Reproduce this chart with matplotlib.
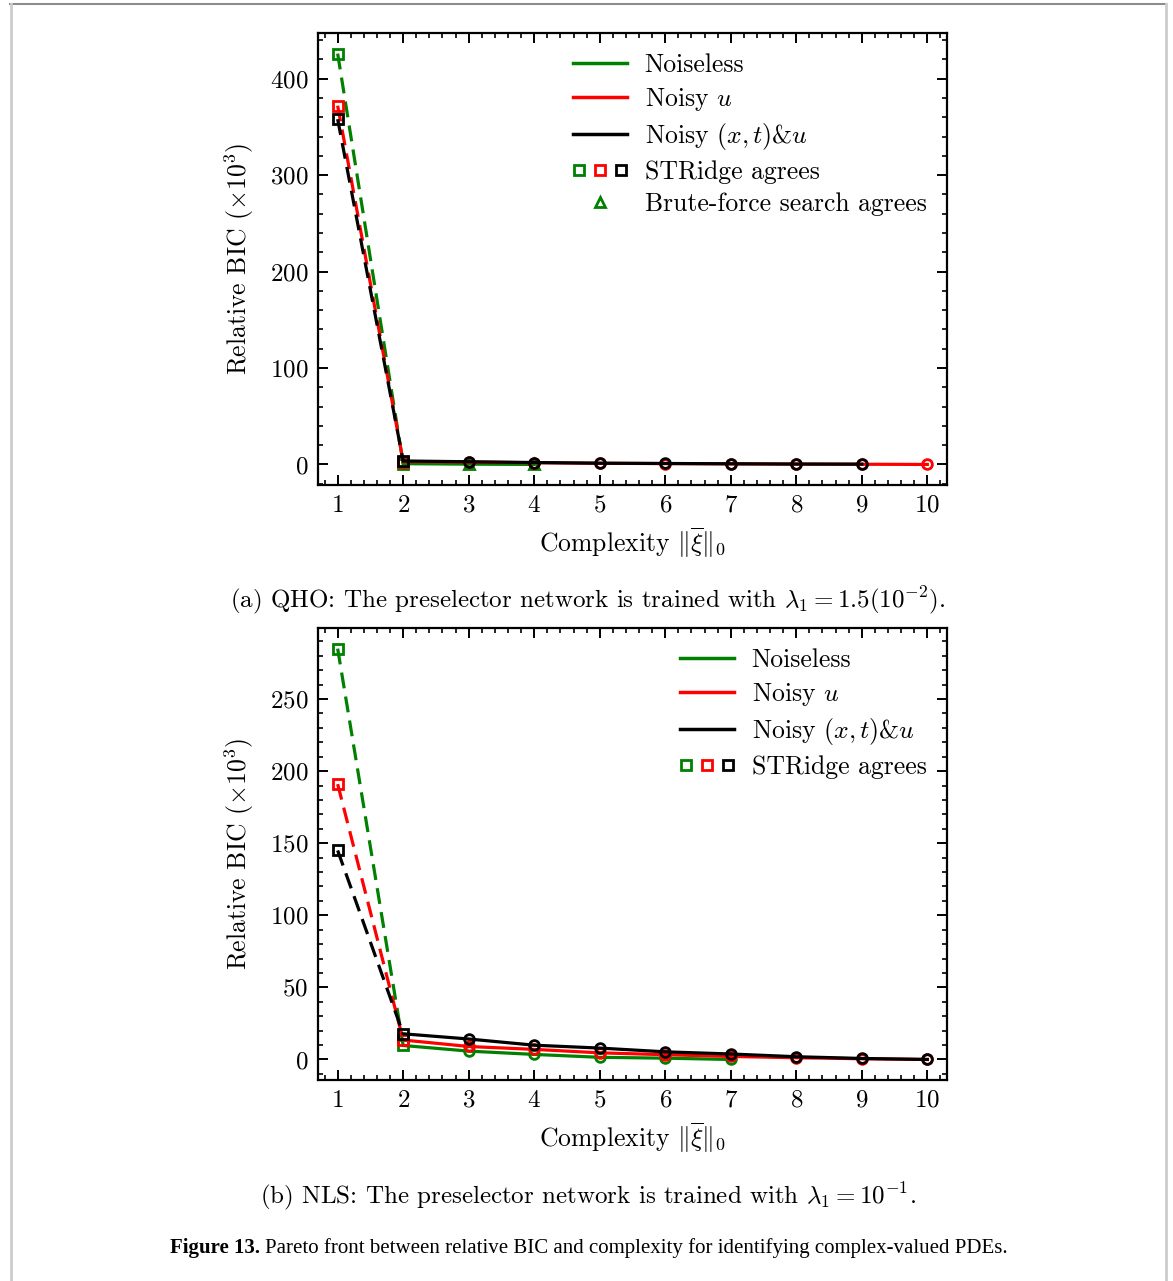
"""Pareto front: relative BIC vs complexity (QHO / NLS)"""
import numpy as np
import matplotlib
matplotlib.use("Agg")
import matplotlib.pyplot as plt
from matplotlib.lines import Line2D
from matplotlib.legend_handler import HandlerTuple

plt.rcParams['font.family'] = 'serif'
plt.rcParams['font.serif'] = ['cmr10', 'DejaVu Serif']
plt.rcParams['mathtext.fontset'] = 'cm'
plt.rcParams['axes.formatter.use_mathtext'] = True
plt.rcParams['axes.unicode_minus'] = False

# ---------------- data ----------------
# (a) QHO
qho_green_x = [1, 2, 3, 4]
qho_green_y = [426, 0.8, 0.3, 0.0]
qho_red_x = [1, 2, 3, 4, 5, 6, 7, 8, 9, 10]
qho_red_y = [372, 3.0, 2.4, 1.8, 1.2, 0.9, 0.6, 0.4, 0.2, 0.0]
qho_black_x = [1, 2, 3, 4, 5, 6, 7, 8, 9]
qho_black_y = [358, 3.6, 2.8, 2.0, 1.3, 1.0, 0.7, 0.4, 0.3]

# (b) NLS
nls_green_x = [1, 2, 3, 4, 5, 6, 7]
nls_green_y = [285, 9.7, 5.8, 3.5, 1.5, 0.9, 0.0]
nls_red_x = [1, 2, 3, 4, 5, 6, 7, 8, 9, 10]
nls_red_y = [191, 13.5, 9.0, 7.0, 4.6, 3.3, 2.1, 1.2, 0.5, 0.0]
nls_black_x = [1, 2, 3, 4, 5, 6, 7, 8, 9, 10]
nls_black_y = [145, 17.8, 14.2, 9.9, 7.9, 5.3, 3.8, 1.9, 0.7, 0.0]

colors = ['green', 'red', 'black']
labels = ['Noiseless', 'Noisy $u$', 'Noisy $(x,t)$&$u$']

fs = 18.5
lw = 2.3


def draw_series(ax, x, y, c, tri_idx=()):
    x = np.array(x)
    y = np.array(y)
    # STRidge agrees for the first two points -> dashed + squares
    ax.plot(x[:2], y[:2], '--', color=c, lw=lw, dashes=(5, 2.6))
    ax.plot(x[1:], y[1:], '-', color=c, lw=lw)
    ax.plot(x[:2], y[:2], 's', mfc='none', mec=c, ms=7.5, mew=2)
    rest = [i for i in range(2, len(x)) if i not in tri_idx]
    ax.plot(x[rest], y[rest], 'o', mfc='none', mec=c, ms=7, mew=2)
    if len(tri_idx):
        idx = list(tri_idx)
        ax.plot(x[idx], y[idx], '^', mfc='none', mec=c, ms=7, mew=2)


def style_axes(ax, ymajor, yminor):
    ax.set_xlim(0.7, 10.3)
    ax.set_xticks(range(1, 11))
    ax.set_xticks(np.arange(0.8, 10.3, 0.2), minor=True)
    ax.yaxis.set_major_locator(plt.MultipleLocator(ymajor))
    ax.yaxis.set_minor_locator(plt.MultipleLocator(yminor))
    ax.tick_params(which='both', direction='in', top=True, right=True, labelsize=18)
    ax.tick_params(which='major', length=7, width=1.4, pad=7)
    ax.tick_params(which='minor', length=3.5, width=1.2)
    for s in ax.spines.values():
        s.set_linewidth(1.6)
    ax.set_xlabel(r'Complexity $\|\overline{\xi}\|_0$', fontsize=fs, labelpad=6)
    ax.set_ylabel(r'Relative BIC $(\times 10^3)$', fontsize=fs, labelpad=10)


def legend_handles(with_brute):
    h = [Line2D([], [], color=c, lw=2.5) for c in colors]
    sq = tuple(Line2D([], [], ls='none', marker='s', mfc='none', mec=c, ms=7, mew=2) for c in colors)
    h.append(sq)
    lab = labels + ['STRidge agrees']
    if with_brute:
        h.append(Line2D([], [], ls='none', marker='^', mfc='none', mec='green', ms=7, mew=2))
        lab.append('Brute-force search agrees')
    return h, lab


fig = plt.figure(figsize=(11.73, 12.81), dpi=100)

# ---------- (a) QHO ----------
ax1 = fig.add_axes([0.2711, 0.6214, 0.5362, 0.3528])
draw_series(ax1, qho_green_x, qho_green_y, 'green', tri_idx=(2, 3))
draw_series(ax1, qho_red_x, qho_red_y, 'red')
draw_series(ax1, qho_black_x, qho_black_y, 'black')
style_axes(ax1, 100, 20)
h, lab = legend_handles(True)
ax1.legend(h, lab, loc='upper right', frameon=False, fontsize=fs, handlelength=2.1,
           handletextpad=0.7, labelspacing=0.32, borderaxespad=0.4,
           handler_map={tuple: HandlerTuple(ndivide=None, pad=0.35)})

# ---------- (b) NLS ----------
ax2 = fig.add_axes([0.2711, 0.1569, 0.5362, 0.3528])
draw_series(ax2, nls_green_x, nls_green_y, 'green')
draw_series(ax2, nls_red_x, nls_red_y, 'red')
draw_series(ax2, nls_black_x, nls_black_y, 'black')
style_axes(ax2, 50, 10)
h, lab = legend_handles(False)
ax2.legend(h, lab, loc='upper right', frameon=False, fontsize=fs, handlelength=2.1,
           handletextpad=0.7, labelspacing=0.32, borderaxespad=0.4,
           handler_map={tuple: HandlerTuple(ndivide=None, pad=0.35)})

# sub-captions
fig.text(0.5013, 0.5316, r'(a) QHO: The preselector network is trained with $\lambda_1 = 1.5(10^{-2})$.',
         ha='center', va='center', fontsize=18)
fig.text(0.5013, 0.0663, r'(b) NLS: The preselector network is trained with $\lambda_1 = 10^{-1}$.',
         ha='center', va='center', fontsize=18)

# figure caption: bold label + regular text
cap_y = 1 - 1248 / 1281
t1 = fig.text(170 / 1173, cap_y, 'Figure 13.', fontsize=15, fontweight='bold',
              family='Liberation Serif', ha='left', va='center')
fig.canvas.draw()
bb = t1.get_window_extent()
x2 = (bb.x1 + 5) / fig.bbox.width
fig.text(x2, cap_y, 'Pareto front between relative BIC and complexity for identifying complex-valued PDEs.',
         fontsize=15, family='Liberation Serif', ha='left', va='center')

# page frame
W, H = 1173, 1281
fig.add_artist(Line2D([10 / W, 1166 / W], [1 - 4 / H, 1 - 4 / H], color='#8c8c8c', lw=1.5,
                      transform=fig.transFigure))
fig.add_artist(Line2D([10.5 / W, 10.5 / W], [0, 1 - 4 / H], color='#cccccc', lw=2,
                      transform=fig.transFigure))
fig.add_artist(Line2D([1166 / W, 1166 / W], [0, 1 - 4 / H], color='#cccccc', lw=2,
                      transform=fig.transFigure))

plt.savefig('out.png', dpi=100)
